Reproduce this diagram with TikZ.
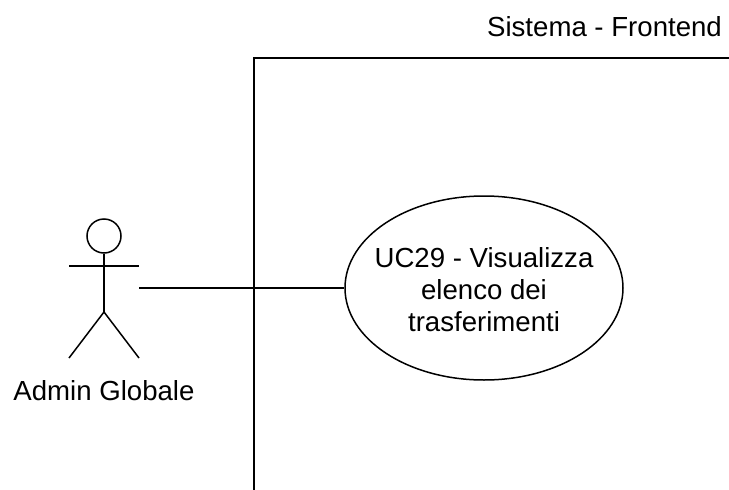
\documentclass[tikz,border=0pt]{standalone}
\usepackage{fontspec}
\setmainfont{Liberation Sans}
\usepackage{tikz}
\usetikzlibrary{shapes.geometric}

\begin{document}
\begin{tikzpicture}[x=1pt,y=-1pt,line width=1.5pt,usecase/.style={draw,ellipse,minimum width=278pt,minimum height=184pt,inner xsep=-16pt,inner ysep=0pt,align=center},label/.style={font=\fontsize{27.6}{32}\selectfont,align=center}]
\useasboundingbox (0,0) rectangle (729,490);
\coordinate (b0) at (254,490);
\coordinate (b1) at (254,58);
\coordinate (b2) at (729,58);
\node[label] (sys) at (604.5,27) {Sistema - Frontend};
\node[usecase,label] (uc) at (484,288) {\rule{0pt}{24pt}UC29 - Visualizza\\elenco dei\\trasferimenti};
\node[draw,circle,minimum size=34pt,inner sep=0pt] (head) at (104,236) {};
\coordinate (neck) at (104,254);
\coordinate (hip) at (104,312);
\coordinate (handl) at (69,266);
\coordinate (handr) at (139,266);
\coordinate (footl) at (69,358);
\coordinate (footr) at (139,358);
\coordinate (actor) at (139,288);
\node[label] (admin) at (104,391) {Admin Globale};

\draw (b0) -- (b1) -- (b2);
\draw (head) -- (hip);
\draw (handl) -- (handr);
\draw (footl) -- (hip) -- (footr);
\draw (actor) -- (uc);
\end{tikzpicture}
\end{document}
